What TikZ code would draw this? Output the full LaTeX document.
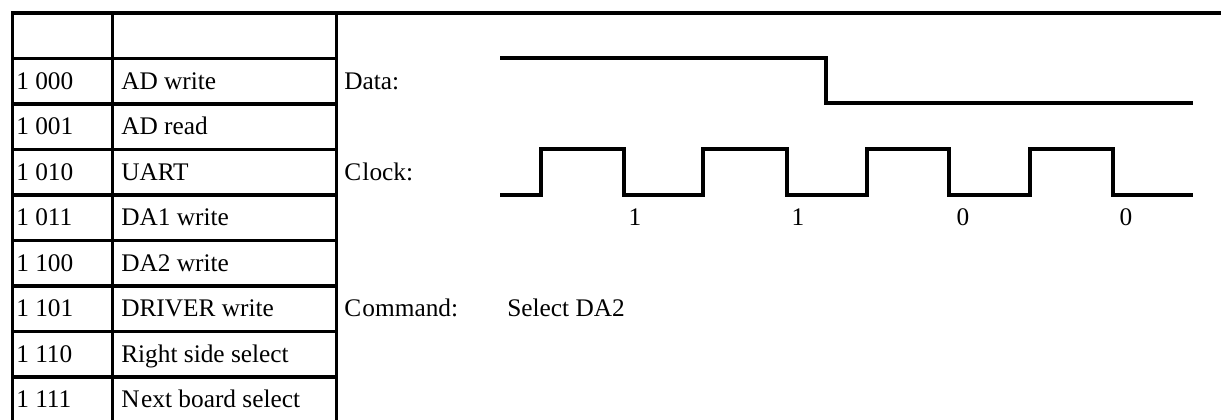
\documentclass[tikz,border=0pt]{standalone}
\usepackage{fontspec}
\setmainfont{Liberation Serif}
\begin{document}
\begin{tikzpicture}[x=0.75pt,y=-0.75pt,
  rule/.style={line width=2.5pt,line cap=rect},
  wave/.style={line width=2.5pt,line join=miter},
  lbl/.style={anchor=base west,inner sep=0pt,font=\fontsize{19pt}{22pt}\selectfont},
  bit/.style={anchor=base,inner sep=0pt,font=\fontsize{19pt}{22pt}\selectfont}]
\useasboundingbox (0,0) rectangle (1221,419);

% table grid
\draw[rule] (12.7,419) -- (12.7,13) -- (1221,13);
\draw[rule] (112.7,13) -- (112.7,419);
\draw[rule] (336.7,13) -- (336.7,419);
\foreach \k in {1,...,8}
  \draw[rule] (12.7,13+45.5*\k) -- (336.7,13+45.5*\k);

% table entries (baseline = row centre + 8)
\node[lbl] (c0) at (16,89.3) {1 000};   \node[lbl] (n0) at (121,89.3) {AD write};
\node[lbl] (c1) at (16,134.8) {1 001};  \node[lbl] (n1) at (121,134.8) {AD read};
\node[lbl] (c2) at (16,180.3) {1 010};  \node[lbl] (n2) at (121,180.3) {UART};
\node[lbl] (c3) at (16,225.8) {1 011};  \node[lbl] (n3) at (121,225.8) {DA1 write};
\node[lbl] (c4) at (16,271.3) {1 100};  \node[lbl] (n4) at (121,271.3) {DA2 write};
\node[lbl] (c5) at (16,316.8) {1 101};  \node[lbl] (n5) at (121,316.8) {DRIVER write};
\node[lbl] (c6) at (16,362.3) {1 110};  \node[lbl] (n6) at (121,362.3) {Right side select};
\node[lbl] (c7) at (16,407.8) {1 111};  \node[lbl] (n7) at (121,407.8) {N\kern1.2pt ext board select};

% signal labels
\node[lbl] (data)  at (344,89.3)  {Data:};
\node[lbl] (clock) at (344,180.3) {C\kern1pt lock:};
\node[lbl] (cmd)   at (344,316.8) {C\kern1pt ommand:};
\node[lbl] (sel)   at (507,316.8) {Select DA2};

% data line
\draw[wave] (500,58) -- (826,58) -- (826,103) -- (1193,103);

% clock line
\draw[wave] (500,195) -- (541,195) -- (541,149) -- (624,149) -- (624,195)
  -- (703,195) -- (703,149) -- (787,149) -- (787,195)
  -- (867,195) -- (867,149) -- (949,149) -- (949,195)
  -- (1030,195) -- (1030,149) -- (1113,149) -- (1113,195) -- (1193,195);

% sampled bits
\node[bit] (b1) at (635,225.8) {1};
\node[bit] (b2) at (798,225.8) {1};
\node[bit] (b3) at (963,225.8) {0};
\node[bit] (b4) at (1126,225.8) {0};
\end{tikzpicture}
\end{document}
